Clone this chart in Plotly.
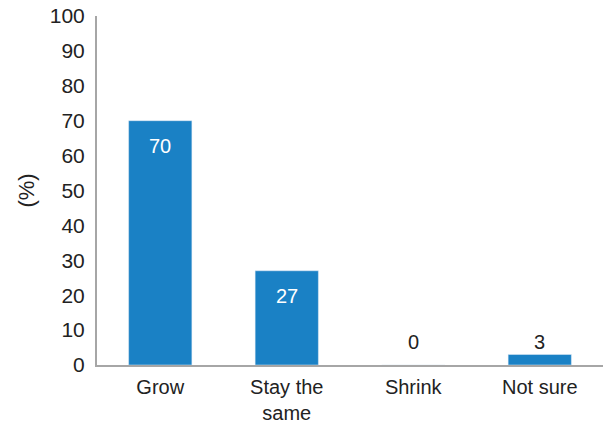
import plotly.graph_objects as go

categories = ["Grow", "Stay the<br>same", "Shrink", "Not sure"]
values = [70, 27, 0, 3]
y_ticks = list(range(0, 101, 10))

bar_color = "#1a81c5"
axis_color = "#a6a6a6"
text_color = "#222222"
font_family = "Liberation Sans, Arial, sans-serif"
fsize = 21
lsize = 20

fig = go.Figure(go.Bar(x=categories, y=values, marker_color=bar_color, width=0.5))

annotations = []
for c, v in zip(categories, values):
    if v >= 10:
        annotations.append(dict(x=c, y=v, text=str(v), showarrow=False, yanchor="middle",
                                yshift=-25, font=dict(color="white", size=lsize, family=font_family)))
    else:
        annotations.append(dict(x=c, y=max(v, 3), text=str(v), showarrow=False, yanchor="bottom",
                                yshift=0, font=dict(color=text_color, size=lsize, family=font_family)))

fig.update_layout(
    width=604, height=424,
    margin=dict(l=97, r=1, t=16, b=59, autoexpand=False),
    paper_bgcolor="white", plot_bgcolor="white",
    font=dict(family=font_family, size=fsize, color=text_color),
    showlegend=False,
    annotations=annotations,
    bargap=0.5,
)
fig.update_xaxes(showline=True, linecolor=axis_color, linewidth=2, showgrid=False, automargin=False,
                 ticks="", ticklabelstandoff=3, tickfont=dict(size=20))
fig.update_yaxes(range=[0, 100], tickvals=y_ticks, showline=True, linecolor=axis_color, linewidth=2,
                 showgrid=False, zeroline=False, ticks="outside", ticklen=6, tickcolor="rgba(0,0,0,0)",
                 automargin=False,
                 title=dict(text="(%)", standoff=9, font=dict(size=22)), tickfont=dict(size=fsize))

fig.write_html("out.html")
